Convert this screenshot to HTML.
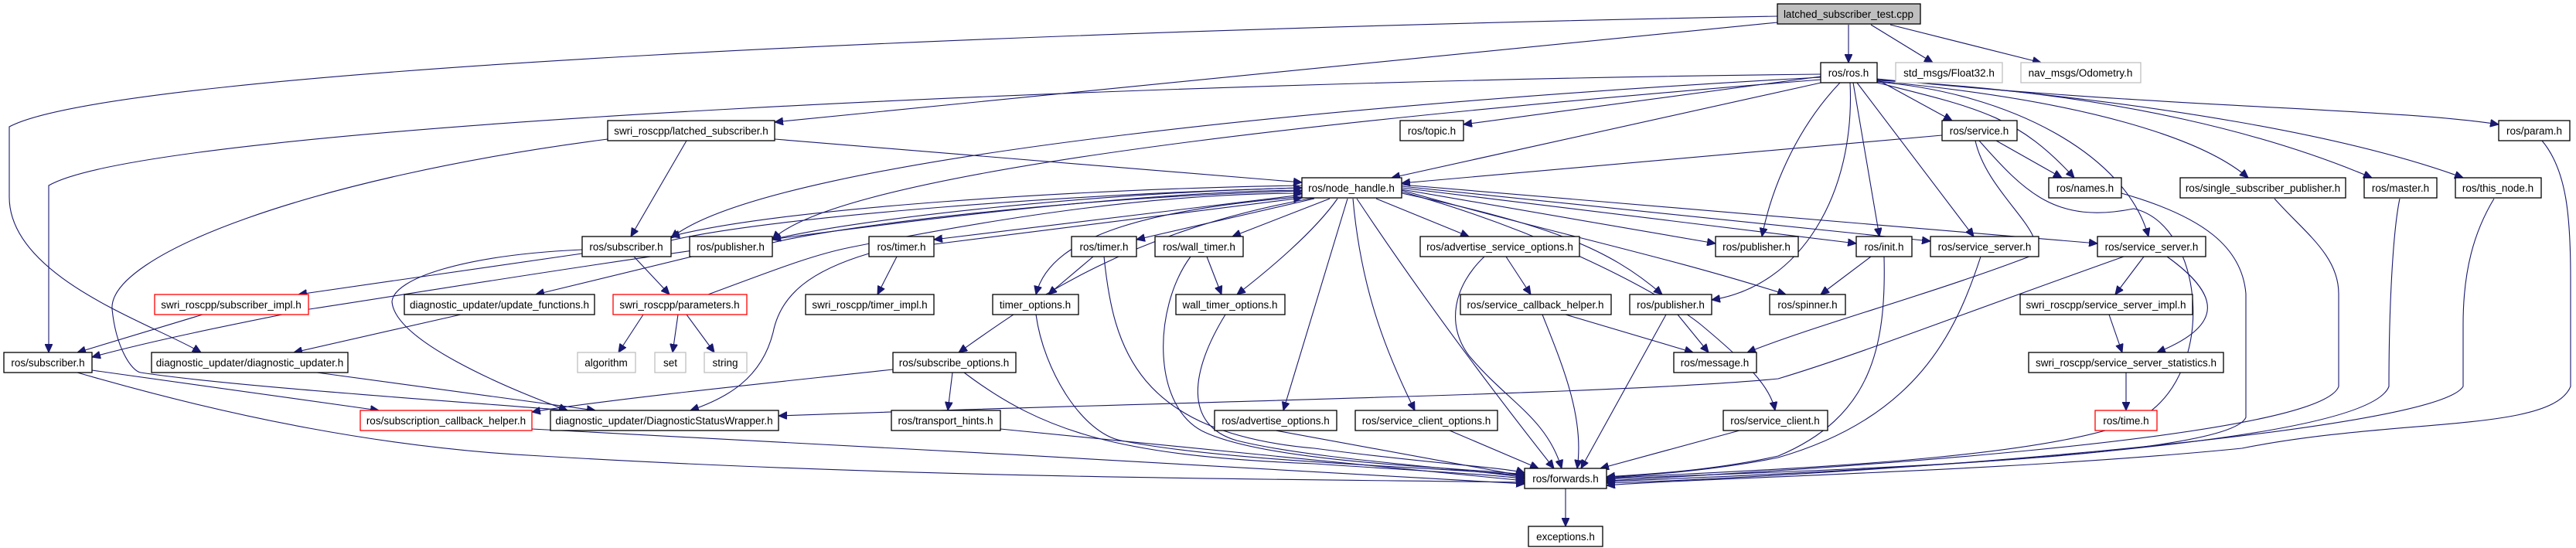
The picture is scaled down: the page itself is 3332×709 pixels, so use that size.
<!DOCTYPE html>
<html><head><meta charset="utf-8"><style>
html,body{margin:0;padding:0;background:#fff;}
svg{display:block;}
text{font-family:"Liberation Sans",sans-serif;font-size:13.5px;fill:#000;text-anchor:middle;}
.n{fill:#fff;stroke:#000;stroke-width:1.3;}
.r{fill:#fff;stroke:#ff0000;stroke-width:1.3;}
.g{fill:#fff;stroke:#bfbfbf;stroke-width:1.3;}
.e path{fill:none;stroke:#191970;stroke-width:1.1;marker-end:url(#a);}
</style></head><body>
<svg width="3332" height="709" viewBox="0 0 3332 709" xmlns="http://www.w3.org/2000/svg">
<defs><marker id="a" markerUnits="userSpaceOnUse" markerWidth="12" markerHeight="10" refX="11" refY="5" orient="auto"><path d="M0,0 L11,5 L0,10 z" fill="#191970" stroke="#191970"/></marker></defs>
<g class="e">
<path d="M2391,32 L2391,81"/>
<path d="M2420,32 L2500,81"/>
<path d="M2445,32 L2640,81"/>
<path d="M2299,29 L1002,158"/>
<path d="M2299,21 C1300,40 150,90 12,164 L12,255 C12,360 200,420 260,456"/>
<path d="M2355,96 C1500,105 200,160 63,240 L63,456"/>
<path d="M2355,99 L1893,161"/>
<path d="M2360,106 L1800,230"/>
<path d="M2355,100 C1800,130 1000,200 868,308"/>
<path d="M2355,103 C1900,140 1100,210 999,310"/>
<path d="M2380,107 C2320,170 2290,250 2279,306"/>
<path d="M2393,107 C2400,250 2330,370 2214,388"/>
<path d="M2397,107 L2431,306"/>
<path d="M2402,107 L2553,306"/>
<path d="M2428,103 L2525,156"/>
<path d="M2428,107 C2560,140 2610,150 2683,230"/>
<path d="M2428,106 C2600,120 2750,200 2779,306"/>
<path d="M2428,105 C2700,130 2850,180 2908,230"/>
<path d="M2428,104 C2750,120 2950,180 3068,230"/>
<path d="M2428,103 C2800,130 3050,180 3186,230"/>
<path d="M2428,102 C2800,140 3100,140 3232,161"/>
<path d="M2512,175 L1813,237"/>
<path d="M2582,182 L2667,230"/>
<path d="M2555,182 C2570,250 2650,300 2630,330 C2500,380 2350,420 2260,456"/>
<path d="M2560,182 C2620,250 2660,290 2760,270 C2850,290 2870,480 2770,540 C2650,600 2200,610 2078,619"/>
<path d="M2744,250 C2850,280 2900,320 2905,380 L2905,540 C2880,600 2200,612 2078,620"/>
<path d="M2942,257 C2980,300 3025,330 3025,380 L3025,500 C3000,570 2300,610 2078,622"/>
<path d="M3104,257 C3095,300 3090,400 3090,500 C3060,580 2400,610 2078,623"/>
<path d="M3226,257 C3200,300 3186,350 3186,420 L3186,500 C3150,560 2400,615 2078,625"/>
<path d="M3288,182 C3320,220 3325,280 3325,360 L3325,500 C3300,560 3100,540 2900,580 C2600,610 2200,618 2078,628"/>
<path d="M888,182 L816,306"/>
<path d="M1002,180 L1684,236"/>
<path d="M786,180 C400,230 140,330 145,400 C150,450 170,480 182,482 C300,500 600,520 734,531"/>
<path d="M1684,240 C1400,244 1000,270 868,306"/>
<path d="M868,311 C1000,280 1400,250 1684,243"/>
<path d="M1684,243 C1400,250 1100,285 999,310"/>
<path d="M999,314 C1100,290 1400,255 1684,247"/>
<path d="M1684,246 C1300,250 600,370 400,400 C300,420 200,440 119,462"/>
<path d="M916,381 C1000,350 1050,330 1100,320 C1300,280 1500,250 1684,250"/>
<path d="M1684,252 L1208,310"/>
<path d="M1208,316 L1684,256"/>
<path d="M1700,257 L1470,310"/>
<path d="M1720,257 L1594,306"/>
<path d="M1730,257 C1700,300 1640,350 1600,381"/>
<path d="M1690,254 C1500,270 1360,300 1340,381"/>
<path d="M1700,256 C1450,300 1320,400 1240,456"/>
<path d="M1743,257 L1660,531"/>
<path d="M1750,257 C1760,370 1790,450 1830,531"/>
<path d="M1755,257 C1850,400 1950,530 2010,606"/>
<path d="M1780,257 L1900,306"/>
<path d="M1813,245 L2219,315"/>
<path d="M1813,250 C2000,290 2080,320 2150,381"/>
<path d="M1813,248 C2000,300 2150,380 2200,420 C2260,470 2290,500 2296,531"/>
<path d="M1813,246 C2000,300 2150,330 2310,381"/>
<path d="M1813,243 L2401,315"/>
<path d="M1813,241 L2497,312"/>
<path d="M1813,239 L2713,315"/>
<path d="M1948,332 L1980,381"/>
<path d="M1920,332 C1880,370 1870,420 1900,460 C1950,520 2000,540 2020,606"/>
<path d="M2025,407 L2190,456"/>
<path d="M1995,407 C2020,470 2050,540 2040,606"/>
<path d="M2170,407 L2210,456"/>
<path d="M2155,407 L2045,606"/>
<path d="M2420,332 L2355,381"/>
<path d="M2437,332 C2440,450 2420,540 2300,590 C2200,612 2100,615 2078,617"/>
<path d="M2562,332 C2530,430 2480,540 2300,592 C2200,612 2100,616 2078,618"/>
<path d="M2747,332 C2500,420 2400,460 2300,490 C2100,510 1500,520 1007,538"/>
<path d="M2773,332 L2736,381"/>
<path d="M2803,332 C2870,380 2880,420 2790,456"/>
<path d="M2728,407 L2745,456"/>
<path d="M2750,482 L2750,531"/>
<path d="M753,328 L386,381"/>
<path d="M820,332 L866,381"/>
<path d="M753,323 C600,330 510,360 507,390 C510,440 650,500 734,531"/>
<path d="M895,332 L693,381"/>
<path d="M262,407 L100,456"/>
<path d="M596,407 L380,456"/>
<path d="M832,407 L800,456"/>
<path d="M877,407 L870,456"/>
<path d="M888,407 L924,456"/>
<path d="M1160,332 L1135,381"/>
<path d="M1124,328 C1050,350 1010,380 1000,430 C985,490 940,515 893,531"/>
<path d="M1414,332 L1356,381"/>
<path d="M1428,332 C1440,450 1470,560 1700,580 C1850,600 1950,605 1972,612"/>
<path d="M1561,332 L1580,381"/>
<path d="M1540,332 C1490,400 1490,530 1560,560 C1650,600 1900,605 1972,614"/>
<path d="M1340,407 C1350,480 1400,560 1450,570 C1600,600 1900,605 1972,616"/>
<path d="M1585,407 C1540,480 1530,550 1600,570 C1700,595 1900,606 1972,618"/>
<path d="M1232,482 L1226,531"/>
<path d="M1247,482 C1350,560 1450,590 1700,600 C1850,610 1950,615 1972,620"/>
<path d="M1155,478 C1000,495 800,515 688,533"/>
<path d="M1294,555 L1972,622"/>
<path d="M1650,557 L1972,616"/>
<path d="M1875,557 L1990,606"/>
<path d="M2250,557 L2070,606"/>
<path d="M410,482 L770,531"/>
<path d="M119,479 L490,531"/>
<path d="M100,482 C300,540 500,580 700,590 C1200,620 1700,620 1972,624"/>
<path d="M688,555 C1000,570 1700,610 1972,626"/>
<path d="M2025,632 L2025,681"/>
</g>
<g>
<rect x="2299" y="5" width="185" height="26" fill="#bfbfbf" stroke="#000" stroke-width="1.3"/><text x="2391" y="23">latched_subscriber_test.cpp</text>
<rect class="n" x="2355" y="81" width="73" height="26"/><text x="2391" y="99">ros/ros.h</text>
<rect class="g" x="2452" y="81" width="138" height="26"/><text x="2521" y="99">std_msgs/Float32.h</text>
<rect class="g" x="2614" y="81" width="155" height="26"/><text x="2691" y="99">nav_msgs/Odometry.h</text>
<rect class="n" x="1811" y="156" width="82" height="26"/><text x="1852" y="174">ros/topic.h</text>
<rect class="n" x="786" y="156" width="216" height="26"/><text x="894" y="174">swri_roscpp/latched_subscriber.h</text>
<rect class="n" x="2512" y="156" width="97" height="26"/><text x="2560" y="174">ros/service.h</text>
<rect class="n" x="3232" y="156" width="92" height="26"/><text x="3278" y="174">ros/param.h</text>
<rect class="n" x="1684" y="230" width="129" height="26"/><text x="1748" y="248">ros/node_handle.h</text>
<rect class="n" x="2650" y="230" width="94" height="26"/><text x="2697" y="248">ros/names.h</text>
<rect class="n" x="2820" y="230" width="214" height="26"/><text x="2927" y="248">ros/single_subscriber_publisher.h</text>
<rect class="n" x="3058" y="230" width="94" height="26"/><text x="3105" y="248">ros/master.h</text>
<rect class="n" x="3176" y="230" width="111" height="26"/><text x="3231" y="248">ros/this_node.h</text>
<rect class="n" x="753" y="306" width="115" height="26"/><text x="810" y="324">ros/subscriber.h</text>
<rect class="n" x="892" y="306" width="107" height="26"/><text x="945" y="324">ros/publisher.h</text>
<rect class="n" x="1124" y="306" width="84" height="26"/><text x="1166" y="324">ros/timer.h</text>
<rect class="n" x="1386" y="306" width="84" height="26"/><text x="1428" y="324">ros/timer.h</text>
<rect class="n" x="1494" y="306" width="114" height="26"/><text x="1551" y="324">ros/wall_timer.h</text>
<rect class="n" x="1837" y="306" width="206" height="26"/><text x="1940" y="324">ros/advertise_service_options.h</text>
<rect class="n" x="2219" y="306" width="107" height="26"/><text x="2272" y="324">ros/publisher.h</text>
<rect class="n" x="2401" y="306" width="72" height="26"/><text x="2437" y="324">ros/init.h</text>
<rect class="n" x="2497" y="306" width="140" height="26"/><text x="2567" y="324">ros/service_server.h</text>
<rect class="n" x="2713" y="306" width="140" height="26"/><text x="2783" y="324">ros/service_server.h</text>
<rect class="r" x="200" y="381" width="199" height="26"/><text x="299" y="399">swri_roscpp/subscriber_impl.h</text>
<rect class="n" x="523" y="381" width="246" height="26"/><text x="646" y="399">diagnostic_updater/update_functions.h</text>
<rect class="r" x="793" y="381" width="173" height="26"/><text x="879" y="399">swri_roscpp/parameters.h</text>
<rect class="n" x="1042" y="381" width="166" height="26"/><text x="1125" y="399">swri_roscpp/timer_impl.h</text>
<rect class="n" x="1284" y="381" width="111" height="26"/><text x="1339" y="399">timer_options.h</text>
<rect class="n" x="1521" y="381" width="141" height="26"/><text x="1591" y="399">wall_timer_options.h</text>
<rect class="n" x="1889" y="381" width="195" height="26"/><text x="1986" y="399">ros/service_callback_helper.h</text>
<rect class="n" x="2108" y="381" width="106" height="26"/><text x="2161" y="399">ros/publisher.h</text>
<rect class="n" x="2289" y="381" width="98" height="26"/><text x="2338" y="399">ros/spinner.h</text>
<rect class="n" x="2613" y="381" width="223" height="26"/><text x="2724" y="399">swri_roscpp/service_server_impl.h</text>
<rect class="n" x="5" y="456" width="114" height="26"/><text x="62" y="474">ros/subscriber.h</text>
<rect class="n" x="196" y="456" width="254" height="26"/><text x="323" y="474">diagnostic_updater/diagnostic_updater.h</text>
<rect class="g" x="747" y="456" width="75" height="26"/><text x="784" y="474">algorithm</text>
<rect class="g" x="847" y="456" width="40" height="26"/><text x="867" y="474">set</text>
<rect class="g" x="911" y="456" width="55" height="26"/><text x="938" y="474">string</text>
<rect class="n" x="1155" y="456" width="159" height="26"/><text x="1234" y="474">ros/subscribe_options.h</text>
<rect class="n" x="2165" y="456" width="107" height="26"/><text x="2218" y="474">ros/message.h</text>
<rect class="n" x="2624" y="456" width="252" height="26"/><text x="2750" y="474">swri_roscpp/service_server_statistics.h</text>
<rect class="r" x="466" y="531" width="222" height="26"/><text x="577" y="549">ros/subscription_callback_helper.h</text>
<rect class="n" x="712" y="531" width="295" height="26"/><text x="859" y="549">diagnostic_updater/DiagnosticStatusWrapper.h</text>
<rect class="n" x="1153" y="531" width="141" height="26"/><text x="1223" y="549">ros/transport_hints.h</text>
<rect class="n" x="1571" y="531" width="158" height="26"/><text x="1650" y="549">ros/advertise_options.h</text>
<rect class="n" x="1753" y="531" width="184" height="26"/><text x="1845" y="549">ros/service_client_options.h</text>
<rect class="n" x="2229" y="531" width="135" height="26"/><text x="2296" y="549">ros/service_client.h</text>
<rect class="r" x="2710" y="531" width="80" height="26"/><text x="2750" y="549">ros/time.h</text>
<rect class="n" x="1972" y="606" width="106" height="26"/><text x="2025" y="624">ros/forwards.h</text>
<rect class="n" x="1977" y="681" width="96" height="26"/><text x="2025" y="699">exceptions.h</text>
</g>
</svg>
</body></html>
